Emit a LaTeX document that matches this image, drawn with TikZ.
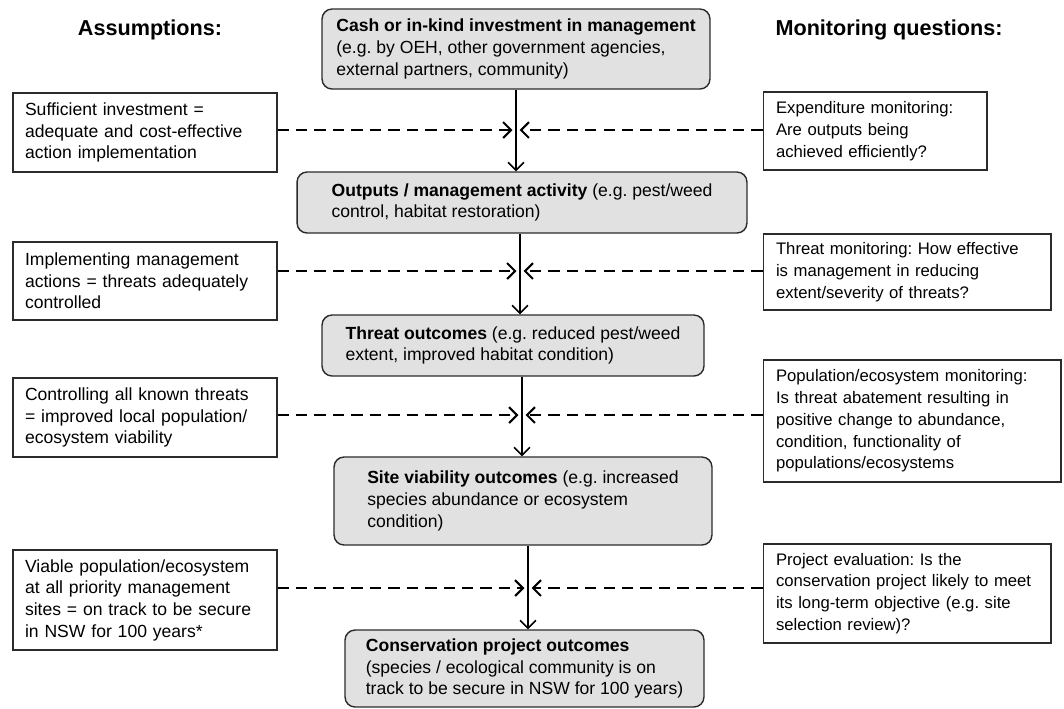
\documentclass[tikz,border=0pt]{standalone}
\usepackage{fontspec}
\setmainfont{Liberation Sans}
\usetikzlibrary{arrows.meta, positioning}
\definecolor{stagegray}{HTML}{E1E1E1}
\definecolor{linegray}{HTML}{2B2B2B}
\frenchspacing
\tikzset{%
	stage/.style={
		draw=linegray,
		fill=stagegray,
		rounded corners=0.2cm,
		line width=0.8pt,
		align=left,
		inner xsep=0.2cm,
		inner ysep=0.1cm,
		font=\fontsize{10}{12.35}\selectfont
	},
	assumption/.style={
		draw=linegray,
		line width=0.6pt,
		align=left,
		inner xsep=0.24cm,
		text width=4.8cm,
		font=\fontsize{10}{12.35}\selectfont
	},
	question/.style={
		draw=linegray,
		line width=0.6pt,
		align=left,
		inner xsep=0.26cm,
		font=\fontsize{9.5}{12.35}\selectfont
	},
	heading/.style={
		font=\fontsize{12.3}{14}\selectfont\bfseries
	},
	link/.style={->, line width=0.9pt},
	feed/.style={->, line width=1.2pt, dash pattern=on 6.5pt off 4pt, shorten >=2pt},
}

\begin{document}
\begin{tikzpicture}[x=0.02cm, y=-0.02cm, >={Straight Barb[length=4.5pt,width=9pt]}]
			\useasboundingbox (0,0) rectangle (1064,708);
			
			\node [heading] (assume-title) at (150,30) {Assumptions:};
			\node [heading] (question-title) at (889,30) {Monitoring questions:};
			
			% results chain
			\node [stage, minimum width=7.76cm, minimum height=1.6cm] (stage-1) at (516,49)
			{\textbf{Cash or in-kind investment in management}\\(e.g. by OEH, other government agencies,\\external partners, community)};
			\node [stage, minimum width=9cm, minimum height=1.22cm] (stage-2) at (522,202.5)
			{\textbf{Outputs / management activity} (e.g. pest/weed\\control, habitat restoration)};
			\node [stage, minimum width=7.64cm, minimum height=1.22cm] (stage-3) at (513,345.5)
			{\textbf{Threat outcomes} (e.g. reduced pest/weed\\extent, improved habitat condition)};
			\node [stage, minimum width=7.56cm, minimum height=1.76cm] (stage-4) at (523,501)
			{\textbf{Site viability outcomes} (e.g. increased\\species abundance or ecosystem\\condition)};
			\node [stage, minimum width=7.18cm, minimum height=1.54cm] (stage-5) at (524.5,668.5)
			{\textbf{Conservation project outcomes}\\(species / ecological community is on\\track to be secure in NSW for 100 years)};
			
			% assumptions
			\node [assumption, minimum height=1.58cm] (assume-1) at (145,132.5)
			{Sufficient investment =\\adequate and cost-effective\\action implementation};
			\node [assumption, minimum height=1.56cm] (assume-2) at (145,281)
			{Implementing management\\actions = threats adequately\\controlled};
			\node [assumption, minimum height=1.58cm] (assume-3) at (145,417.5)
			{Controlling all known threats\\= improved local population/\\ecosystem viability};
			\node [assumption, minimum height=2cm] (assume-4) at (145,600)
			{Viable population/ecosystem\\at all priority management\\sites = on track to be secure\\in NSW for 100 years*};
			
			% monitoring questions
			\node [question, text width=3.96cm, minimum height=1.56cm] (question-1) at (875,131)
			{Expenditure monitoring:\\Are outputs being\\achieved efficiently?};
			\node [question, text width=5.24cm, minimum height=1.52cm] (question-2) at (907,272)
			{Threat monitoring: How effective\\is management in reducing\\extent/severity of threats?};
			\node [question, text width=5.44cm, minimum height=2.44cm] (question-3) at (912,421)
			{Population/ecosystem monitoring:\\Is threat abatement resulting in\\positive change to abundance,\\condition, functionality of\\populations/ecosystems};
			\node [question, text width=5.24cm, minimum height=1.98cm] (question-4) at (907,593.5)
			{Project evaluation: Is the\\conservation project likely to meet\\its long-term objective (e.g. site\\selection review)?};
			
			\coordinate (join-1) at (516,130);
			\coordinate (join-2) at (520,271);
			\coordinate (join-3) at (522,415);
			\coordinate (join-4) at (528,588);
			
			\foreach \i/\j in {1/2,2/3,3/4,4/5}
			\draw [link] (join-\i |- stage-\i.south) -- (join-\i |- stage-\j.north);
			
			\foreach \i in {1,...,4}
			\draw [feed] (join-\i -| assume-\i.east) -- (join-\i);
			
			\foreach \i in {1,...,4}
			\draw [feed] (join-\i -| question-\i.west) -- (join-\i);
			
		\end{tikzpicture}
\end{document}
